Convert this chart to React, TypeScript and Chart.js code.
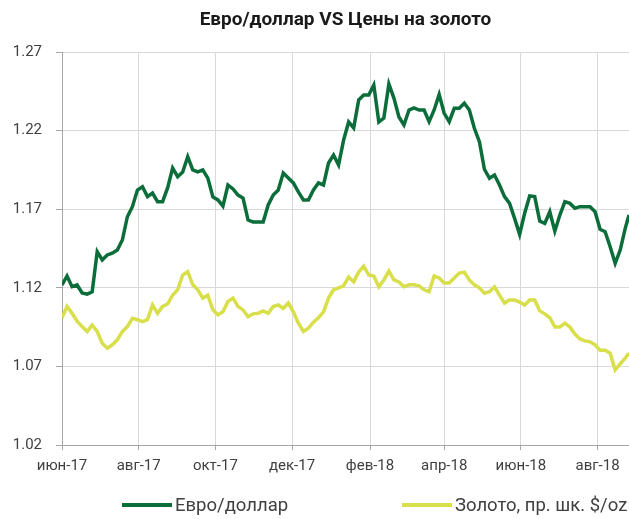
import React, { useEffect, useRef } from "react";
import { Chart, registerables } from "chart.js";

Chart.register(...registerables);

const title = "Евро/доллар VS Цены на золото";
const eurLabel = "Евро/доллар";
const goldLabel = "Золото, пр. шк. $/oz";

const startDate = "2017-06-01";
const endDate = "2018-08-26";

const dates = [
  "2017-06-01", "2017-06-05", "2017-06-09", "2017-06-13", "2017-06-17", "2017-06-21", "2017-06-25", "2017-06-29",
  "2017-07-03", "2017-07-07", "2017-07-11", "2017-07-15", "2017-07-19", "2017-07-23", "2017-07-27", "2017-07-31",
  "2017-08-04", "2017-08-08", "2017-08-12", "2017-08-16", "2017-08-20", "2017-08-24", "2017-08-28", "2017-09-01",
  "2017-09-05", "2017-09-09", "2017-09-13", "2017-09-17", "2017-09-21", "2017-09-25", "2017-09-29", "2017-10-03",
  "2017-10-07", "2017-10-11", "2017-10-15", "2017-10-19", "2017-10-23", "2017-10-27", "2017-10-31", "2017-11-04",
  "2017-11-08", "2017-11-12", "2017-11-16", "2017-11-20", "2017-11-24", "2017-11-28", "2017-12-02", "2017-12-06",
  "2017-12-10", "2017-12-14", "2017-12-18", "2017-12-22", "2017-12-26", "2017-12-30", "2018-01-03", "2018-01-07",
  "2018-01-11", "2018-01-15", "2018-01-19", "2018-01-23", "2018-01-27", "2018-01-31", "2018-02-04", "2018-02-08",
  "2018-02-12", "2018-02-16", "2018-02-20", "2018-02-24", "2018-02-28", "2018-03-04", "2018-03-08", "2018-03-12",
  "2018-03-16", "2018-03-20", "2018-03-24", "2018-03-28", "2018-04-01", "2018-04-05", "2018-04-09", "2018-04-13",
  "2018-04-17", "2018-04-21", "2018-04-25", "2018-04-29", "2018-05-03", "2018-05-07", "2018-05-11", "2018-05-15",
  "2018-05-19", "2018-05-23", "2018-05-27", "2018-05-31", "2018-06-04", "2018-06-08", "2018-06-12", "2018-06-16",
  "2018-06-20", "2018-06-24", "2018-06-28", "2018-07-02", "2018-07-06", "2018-07-10", "2018-07-14", "2018-07-18",
  "2018-07-22", "2018-07-26", "2018-07-30", "2018-08-03", "2018-08-07", "2018-08-11", "2018-08-15", "2018-08-19",
  "2018-08-23", "2018-08-26",
];

const eurUsd = [
  1.1218, 1.1275, 1.1207, 1.1218, 1.1167, 1.116, 1.1175, 1.143,
  1.1377, 1.1409, 1.142, 1.144, 1.1504, 1.1652, 1.1716, 1.1822,
  1.1843, 1.178, 1.1803, 1.1748, 1.1748, 1.1835, 1.1962, 1.1907,
  1.1937, 1.2034, 1.195, 1.1937, 1.195, 1.1898, 1.1778, 1.1759,
  1.172, 1.1854, 1.1829, 1.179, 1.1771, 1.1631, 1.1619, 1.1619,
  1.1619, 1.1727, 1.179, 1.1822, 1.193, 1.1898, 1.1867, 1.181,
  1.1759, 1.1759, 1.1822, 1.1867, 1.1854, 1.1994, 1.2045, 1.1981,
  1.214, 1.2255, 1.2217, 1.2395, 1.2426, 1.2426, 1.249, 1.2255,
  1.228, 1.2497, 1.2407, 1.2287, 1.2236, 1.2331, 1.2344, 1.2331,
  1.2331, 1.2257, 1.2331, 1.243, 1.231, 1.2257, 1.2342, 1.2342,
  1.2374, 1.2331, 1.2215, 1.2129, 1.1954, 1.1897, 1.1918, 1.1854,
  1.178, 1.1737, 1.1642, 1.154, 1.1674, 1.1784, 1.178, 1.1625,
  1.161, 1.1684, 1.156, 1.1663, 1.1748, 1.1737, 1.1706, 1.1716,
  1.1716, 1.1716, 1.1684, 1.1572, 1.1557, 1.1461, 1.1356, 1.144,
  1.1578, 1.1663,
];

const goldUsdOz = [
  1259, 1282, 1268, 1252, 1241, 1231, 1244, 1231,
  1207, 1197, 1204, 1214, 1231, 1241, 1258, 1255,
  1251, 1255, 1285, 1268, 1282, 1287, 1305, 1316,
  1346, 1353, 1326, 1316, 1299, 1305, 1275, 1265,
  1271, 1292, 1299, 1282, 1275, 1261, 1267, 1268,
  1273, 1268, 1282, 1285, 1278, 1289, 1271, 1248,
  1231, 1238, 1250, 1259, 1271, 1299, 1316, 1320,
  1324, 1342, 1332, 1352, 1364, 1346, 1344, 1322,
  1336, 1354, 1336, 1332, 1322, 1326, 1326, 1324,
  1316, 1312, 1344, 1340, 1330, 1330, 1340, 1350,
  1352, 1336, 1326, 1320, 1309, 1312, 1322, 1305,
  1289, 1295, 1295, 1291, 1285, 1295, 1295, 1273,
  1267, 1259, 1240, 1240, 1248, 1240, 1226, 1216,
  1212, 1210, 1204, 1193, 1193, 1187, 1153, 1165,
  1177, 1187,
];

const xTickDates = [
  "2017-06-01", "2017-08-01", "2017-10-01", "2017-12-01",
  "2018-02-01", "2018-04-01", "2018-06-01", "2018-08-01",
];
const xTickLabels = ["июн-17", "авг-17", "окт-17", "дек-17", "фев-18", "апр-18", "июн-18", "авг-18"];
const yTicks = [1.02, 1.07, 1.12, 1.17, 1.22, 1.27];
const goldAxisMin = 1000;
const goldAxisMax = 1800;

const EUR_COLOR = "#0b6e3a";
const GOLD_COLOR = "#d8df4b";
const FONT = "Roboto, 'Liberation Sans', sans-serif";
const TEXT = "#404040";

const dayOffset = (s: string) => (Date.parse(s) - Date.parse(startDate)) / 86400000;

export default function App() {
  const ref = useRef<HTMLCanvasElement>(null);

  useEffect(() => {
    if (!ref.current) return;
    const xs = dates.map(dayOffset);
    const chart = new Chart(ref.current, {
      type: "line",
      data: {
        datasets: [
          {
            label: eurLabel,
            data: xs.map((x, i) => ({ x, y: eurUsd[i] })),
            borderColor: EUR_COLOR,
            backgroundColor: EUR_COLOR,
            borderWidth: 3.5,
            pointRadius: 0,
            tension: 0,
            yAxisID: "y",
          },
          {
            label: goldLabel,
            data: xs.map((x, i) => ({ x, y: goldUsdOz[i] })),
            borderColor: GOLD_COLOR,
            backgroundColor: GOLD_COLOR,
            borderWidth: 3.5,
            pointRadius: 0,
            tension: 0,
            yAxisID: "y2",
          },
        ],
      },
      options: {
        responsive: false,
        animation: false,
        layout: { padding: { left: 0, right: 0, top: 52, bottom: 0 } },
        plugins: {
          legend: { display: false },
          title: { display: false },
          tooltip: { enabled: false },
        },
        scales: {
          x: {
            type: "linear",
            min: 0,
            max: dayOffset(endDate),
            afterBuildTicks: (s: any) => {
              s.ticks = xTickDates.map((d) => ({ value: dayOffset(d) }));
            },
            afterFit: (s: any) => {
              s.height = 74;
            },
            ticks: {
              autoSkip: false,
              maxRotation: 0,
              padding: 7,
              color: TEXT,
              font: { family: FONT, size: 15 },
              callback: (_v: any, i: number) => xTickLabels[i],
            },
            grid: { color: "#d9d9d9", tickColor: "#a6a6a6", tickLength: 5 },
            border: { color: "#a6a6a6", width: 1 },
          },
          y: {
            min: 1.02,
            max: 1.27,
            afterBuildTicks: (s: any) => {
              s.ticks = yTicks.map((v) => ({ value: v }));
            },
            afterFit: (s: any) => {
              s.width = 62;
            },
            ticks: {
              padding: 14,
              color: TEXT,
              font: { family: FONT, size: 15 },
              callback: (v: any) => Number(v).toFixed(2),
            },
            grid: { color: "#d9d9d9", tickColor: "#a6a6a6", tickLength: 6 },
            border: { color: "#a6a6a6", width: 1 },
          },
          y2: { display: false, min: goldAxisMin, max: goldAxisMax, position: "right" },
        },
      },
    } as any);
    return () => chart.destroy();
  }, []);

  const legendItem = (left: number, color: string, label: string) => (
    <div
      style={{
        position: "absolute",
        left,
        top: 493,
        height: 24,
        display: "flex",
        alignItems: "center",
        fontFamily: FONT,
        fontSize: 18.5,
        color: TEXT,
        whiteSpace: "nowrap",
      }}
    >
      <span style={{ display: "inline-block", width: 50, height: 4, background: color, marginRight: 3 }} />
      <span>{label}</span>
    </div>
  );

  return (
    <div style={{ position: "absolute", left: 0, top: 0, width: 629, height: 519, overflow: "hidden", background: "#fff" }}>
      <canvas ref={ref} width={629} height={519} style={{ display: "block" }} />
      <div
        style={{
          position: "absolute",
          left: 62,
          width: 567,
          top: 7,
          lineHeight: "24px",
          textAlign: "center",
          fontFamily: FONT,
          fontWeight: 700,
          fontSize: 19,
          color: "#1a1a1a",
        }}
      >
        {title}
      </div>
      {legendItem(122, EUR_COLOR, eurLabel)}
      {legendItem(402, GOLD_COLOR, goldLabel)}
    </div>
  );
}
